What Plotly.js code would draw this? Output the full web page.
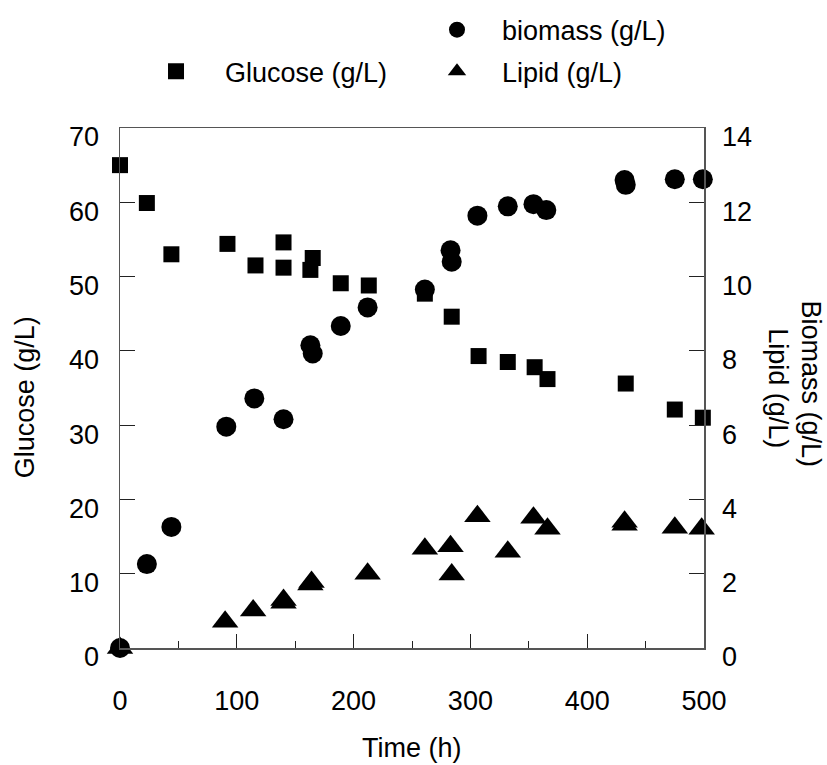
<!DOCTYPE html>
<html>
<head>
<meta charset="utf-8">
<script src="https://cdn.plot.ly/plotly-3.0.1.min.js"></script>
<style>html,body{margin:0;padding:0;background:#fff;}#chart{width:827px;height:765px;}</style>
</head>
<body>
<div id="chart"></div>
<script>
// Glucose (left axis, g/L)
var glucoseTime = [0, 23, 44, 92, 116, 140, 140, 165, 163, 189, 213, 261, 284, 307, 332, 355, 366, 433, 475, 499];
var glucoseVal  = [65, 59.9, 53.0, 54.4, 51.5, 54.6, 51.2, 52.5, 50.9, 49.1, 48.8, 47.7, 44.6, 39.3, 38.5, 37.8, 36.2, 35.6, 32.1, 31.0];

// Biomass (right axis, g/L)
var biomassTime = [0, 23, 44, 91, 115, 140, 163, 165, 189, 212, 261, 283, 284, 306, 332, 354, 365, 432, 433, 475, 499];
var biomassVal  = [0, 2.26, 3.26, 5.96, 6.72, 6.16, 8.15, 7.93, 8.67, 9.17, 9.65, 10.71, 10.40, 11.64, 11.89, 11.95, 11.79, 12.60, 12.47, 12.62, 12.62];

// Lipid (right axis, g/L)
var lipidTime = [0, 90, 114, 140, 140, 163, 164, 212, 261, 283, 284, 306, 332, 354, 366, 432, 432, 475, 498];
var lipidVal  = [0, 0.71, 1.01, 1.22, 1.29, 1.71, 1.78, 2.0, 2.67, 2.74, 1.98, 3.55, 2.59, 3.51, 3.21, 3.32, 3.40, 3.24, 3.21];

var xTickVals = [0, 100, 200, 300, 400, 500];
var yTickVals = [0, 10, 20, 30, 40, 50, 60, 70];
var y2TickVals = [0, 2, 4, 6, 8, 10, 12, 14];

var FONT = 'Arial, "Liberation Sans", sans-serif';
var FS = 27;

var traces = [
  {x: glucoseTime, y: glucoseVal, name: 'Glucose (g/L)', type: 'scatter', mode: 'markers',
   marker: {symbol: 'square', size: 16, color: '#000'}, cliponaxis: false, legend: 'legend'},
  {x: biomassTime, y: biomassVal, name: 'biomass (g/L)', type: 'scatter', mode: 'markers', yaxis: 'y2',
   marker: {symbol: 'circle', size: 20, color: '#000'}, cliponaxis: false, legend: 'legend2'},
  {x: lipidTime, y: lipidVal, name: 'Lipid (g/L)', type: 'scatter', mode: 'markers', yaxis: 'y2',
   marker: {symbol: 'triangle-up', size: 23, color: '#000'}, cliponaxis: false, legend: 'legend3'}
];

var legendBase = {bgcolor: 'rgba(0,0,0,0)', borderwidth: 0, font: {family: FONT, size: FS, color: '#000'},
  xanchor: 'left', yanchor: 'middle', orientation: 'v'};

var layout = {
  width: 827, height: 765,
  margin: {l: 120, r: 123, t: 128, b: 117, pad: 0, autoexpand: false},
  paper_bgcolor: '#fff', plot_bgcolor: '#fff',
  font: {family: FONT, size: FS, color: '#000'},
  showlegend: true,
  legend: Object.assign({}, legendBase, {x: 0.012, y: 1.1082, itemwidth: 88}),
  legend2: Object.assign({}, legendBase, {x: 0.50, y: 1.1883, itemwidth: 80}),
  legend3: Object.assign({}, legendBase, {x: 0.50, y: 1.1082, itemwidth: 80}),
  xaxis: {
    range: [0, 500], tickvals: xTickVals, ticks: 'inside', ticklen: 14, tickwidth: 1, tickcolor: '#222',
    showline: true, linecolor: '#555', linewidth: 1.5, mirror: true, showgrid: false, zeroline: false,
    ticklabelstandoff: 28, tickfont: {family: FONT, size: FS, color: '#000'},
    minor: {tickvals: [50, 150, 250, 350, 450], ticks: 'inside', ticklen: 7, tickwidth: 1, tickcolor: '#222', showgrid: false}
  },
  yaxis: {
    range: [0, 70], tickvals: yTickVals, ticks: 'inside', ticklen: 15, tickwidth: 1, tickcolor: '#222',
    showline: true, linecolor: '#555', linewidth: 1.5, showgrid: false, zeroline: false,
    ticklabelstandoff: 14, ticklabelshift: 9, tickfont: {family: FONT, size: FS, color: '#000'}
  },
  yaxis2: {
    range: [0, 14], tickvals: y2TickVals, overlaying: 'y', side: 'right', ticks: 'inside', ticklen: 15, tickwidth: 1, tickcolor: '#222',
    showline: true, linecolor: '#555', linewidth: 1.5, showgrid: false, zeroline: false,
    ticklabelstandoff: 11, ticklabelshift: 9, tickfont: {family: FONT, size: FS, color: '#000'}
  },
  annotations: [
    {text: 'Glucose (g/L)', xref: 'paper', yref: 'paper', x: -0.1627, y: 0.482, textangle: -90,
     showarrow: false, xanchor: 'center', yanchor: 'middle', font: {family: FONT, size: FS, color: '#000'}},
    {text: 'Biomass (g/L)', xref: 'paper', yref: 'paper', x: 1.183, y: 0.507, textangle: 90,
     showarrow: false, xanchor: 'center', yanchor: 'middle', font: {family: FONT, size: FS, color: '#000'}},
    {text: 'Lipid (g/L)', xref: 'paper', yref: 'paper', x: 1.1267, y: 0.4995, textangle: 90,
     showarrow: false, xanchor: 'center', yanchor: 'middle', font: {family: FONT, size: FS, color: '#000'}},
    {text: 'Time (h)', xref: 'paper', yref: 'paper', x: 0.5, y: -0.1915,
     showarrow: false, xanchor: 'center', yanchor: 'middle', font: {family: FONT, size: FS, color: '#000'}}
  ]
};

Plotly.newPlot('chart', traces, layout, {displayModeBar: false, staticPlot: true});
</script>
</body>
</html>
